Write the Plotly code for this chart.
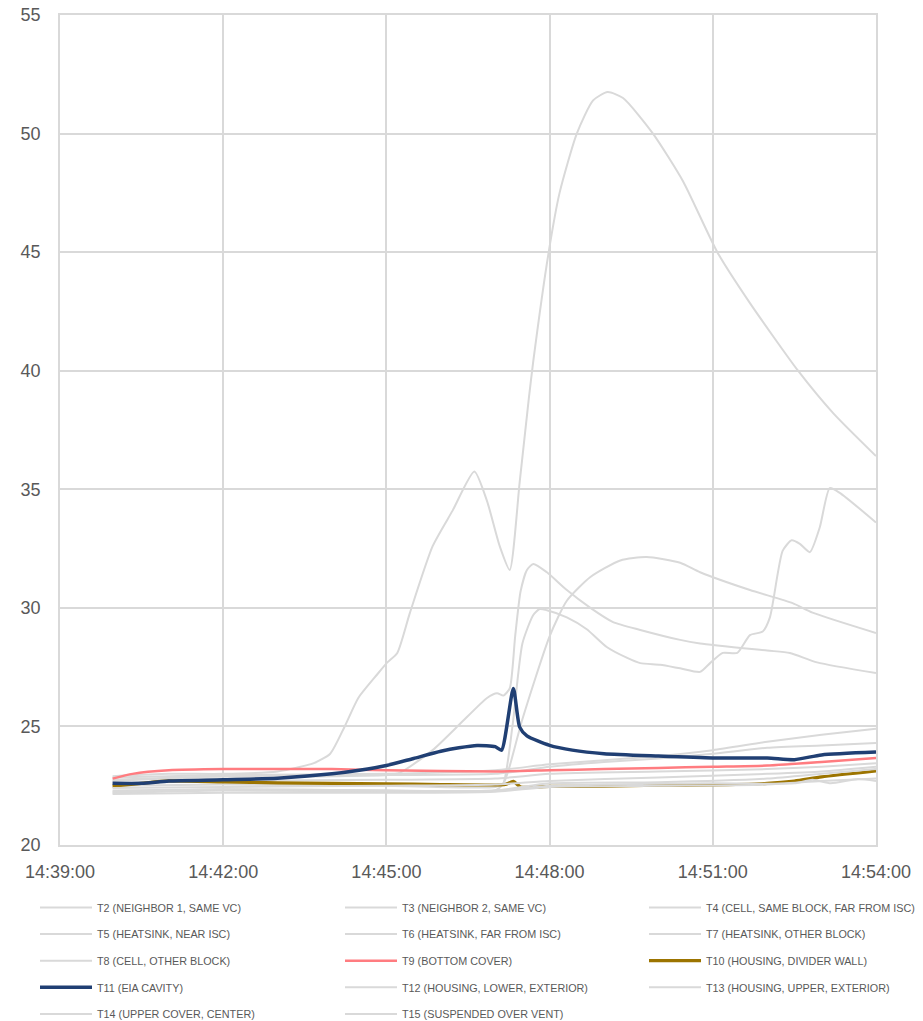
import plotly.graph_objects as go

DAY = "2021-01-01 "

names = {
    "T2": "T2 (NEIGHBOR 1, SAME VC)",
    "T3": "T3 (NEIGHBOR 2, SAME VC)",
    "T4": "T4 (CELL, SAME BLOCK, FAR FROM ISC)",
    "T5": "T5 (HEATSINK, NEAR ISC)",
    "T6": "T6 (HEATSINK, FAR FROM ISC)",
    "T7": "T7 (HEATSINK, OTHER BLOCK)",
    "T8": "T8 (CELL, OTHER BLOCK)",
    "T9": "T9 (BOTTOM COVER)",
    "T10": "T10 (HOUSING, DIVIDER WALL)",
    "T11": "T11 (EIA CAVITY)",
    "T12": "T12 (HOUSING, LOWER, EXTERIOR)",
    "T13": "T13 (HOUSING, UPPER, EXTERIOR)",
    "T14": "T14 (UPPER COVER, CENTER)",
    "T15": "T15 (SUSPENDED OVER VENT)",
}

t2_time = ["14:39:58", "14:41:00", "14:42:00", "14:43:00", "14:43:14", "14:43:40", "14:43:58", "14:44:14",
           "14:44:29", "14:44:50", "14:45:01", "14:45:12", "14:45:26", "14:45:51", "14:46:13", "14:46:37",
           "14:46:51", "14:47:05", "14:47:16", "14:47:27", "14:47:37", "14:47:42", "14:47:59", "14:48:11",
           "14:48:30", "14:48:48", "14:49:04", "14:49:21", "14:49:54", "14:50:27", "14:51:05", "14:51:41",
           "14:52:34", "14:53:13", "14:54:00"]
t2_vals = [22.9, 23.0, 23.0, 23.1, 23.2, 23.45, 23.85, 25.0,
           26.2, 27.2, 27.7, 28.1, 29.8, 32.6, 34.1, 35.75,
           34.5, 32.6, 31.6, 35.3, 38.8, 40.4, 45.0, 47.5,
           50.0, 51.4, 51.75, 51.5, 50.0, 48.0, 45.0, 42.85,
           40.0, 38.2, 36.4]

t3_time = ["14:39:58", "14:41:00", "14:42:00", "14:43:00", "14:44:00", "14:45:00", "14:45:15", "14:45:51",
           "14:46:21", "14:46:51", "14:47:02", "14:47:09", "14:47:16", "14:47:22", "14:47:28", "14:47:35",
           "14:47:42", "14:47:57", "14:48:19", "14:48:45", "14:49:10", "14:49:40", "14:50:24", "14:50:46",
           "14:52:00", "14:52:25", "14:52:55", "14:54:00"]
t3_vals = [22.7, 22.8, 22.8, 22.85, 22.9, 22.95, 23.05, 24.0,
           25.1, 26.2, 26.4, 26.3, 26.6, 28.8, 30.7, 31.6,
           31.85, 31.5, 30.75, 30.0, 29.4, 29.07, 28.65, 28.5,
           28.2, 28.1, 27.7, 27.25]

t4_time = ["14:39:58", "14:42:00", "14:45:00", "14:47:00", "14:47:09", "14:47:15", "14:47:30", "14:48:00",
           "14:48:19", "14:48:45", "14:49:18", "14:49:47", "14:50:24", "14:50:46", "14:51:41", "14:52:28",
           "14:52:50", "14:54:00"]
t4_vals = [22.5, 22.55, 22.5, 22.45, 22.6, 23.2, 25.3, 28.8,
           30.3, 31.3, 32.0, 32.14, 31.9, 31.5, 30.75, 30.2,
           29.8, 28.94]

t5_time = ["14:39:58", "14:42:00", "14:45:00", "14:47:00", "14:47:09", "14:47:19", "14:47:30", "14:47:42",
           "14:47:49", "14:47:57", "14:48:19", "14:48:41", "14:49:03", "14:49:25", "14:49:40", "14:50:02",
           "14:50:24", "14:50:46", "14:50:57", "14:51:11", "14:51:27", "14:51:41", "14:51:55", "14:52:03",
           "14:52:17", "14:52:27", "14:52:36", "14:52:47", "14:52:58", "14:53:09", "14:53:20", "14:54:00"]
t5_vals = [22.3, 22.35, 22.3, 22.3, 22.6, 25.0, 28.5, 29.7,
           29.95, 29.9, 29.6, 29.1, 28.35, 27.9, 27.67, 27.6,
           27.45, 27.3, 27.67, 28.1, 28.1, 28.85, 29.0, 29.6,
           32.4, 32.85, 32.7, 32.35, 33.4, 35.05, 34.85, 33.6]

t6_time = ["14:39:58", "14:42:00", "14:45:00", "14:47:00", "14:48:00", "14:50:00", "14:51:00", "14:52:00",
           "14:53:00", "14:54:00"]
t6_vals = [22.85, 22.95, 23.0, 23.15, 23.4, 23.75, 24.0, 24.35, 24.65, 24.9]

t7_time = ["14:39:58", "14:42:00", "14:45:00", "14:47:00", "14:48:00", "14:49:00", "14:50:00", "14:51:00",
           "14:52:00", "14:53:00", "14:54:00"]
t7_vals = [22.75, 22.9, 22.95, 23.0, 23.3, 23.5, 23.65, 23.85, 24.1, 24.2, 24.3]

t8_time = ["14:39:58", "14:42:00", "14:45:00", "14:47:00", "14:48:00", "14:50:00", "14:52:00", "14:53:00",
           "14:54:00"]
t8_vals = [22.6, 22.7, 22.75, 22.8, 23.0, 23.1, 23.2, 23.3, 23.45]

t9_time = ["14:39:58", "14:40:20", "14:41:00", "14:42:00", "14:44:00", "14:45:00", "14:47:00", "14:48:00",
           "14:49:00", "14:50:00", "14:51:00", "14:52:00", "14:53:00", "14:54:00"]
t9_vals = [22.8, 23.0, 23.15, 23.2, 23.2, 23.15, 23.1, 23.15, 23.2, 23.25, 23.3, 23.35, 23.5, 23.67]

t10_time = ["14:39:58", "14:40:30", "14:41:00", "14:42:00", "14:43:00", "14:44:00", "14:45:00", "14:46:00",
            "14:47:00", "14:47:11", "14:47:20", "14:47:28", "14:48:00", "14:49:00", "14:50:00", "14:51:00",
            "14:52:00", "14:52:30", "14:53:00", "14:54:00"]
t10_vals = [22.48, 22.6, 22.7, 22.66, 22.62, 22.6, 22.58, 22.55,
            22.53, 22.55, 22.68, 22.45, 22.47, 22.48, 22.52, 22.53,
            22.6, 22.7, 22.87, 23.12]

t11_time = ["14:39:58", "14:40:30", "14:41:00", "14:42:00", "14:43:00", "14:44:00", "14:44:30", "14:45:00",
            "14:45:30", "14:46:00", "14:46:20", "14:46:40", "14:47:00", "14:47:07", "14:47:20", "14:47:27",
            "14:47:35", "14:48:00", "14:48:25", "14:49:00", "14:50:00", "14:51:00", "14:52:00", "14:52:30",
            "14:53:00", "14:54:00"]
t11_vals = [22.6, 22.6, 22.7, 22.75, 22.82, 23.0, 23.15, 23.35,
            23.65, 23.95, 24.1, 24.2, 24.15, 24.0, 26.6, 24.97,
            24.6, 24.2, 24.0, 23.85, 23.75, 23.67, 23.67, 23.6,
            23.8, 23.92]

t12_time = ["14:39:58", "14:42:00", "14:45:00", "14:47:00", "14:48:00", "14:50:00", "14:52:00", "14:53:00",
            "14:54:00"]
t12_vals = [22.4, 22.45, 22.5, 22.55, 22.7, 22.85, 23.0, 23.1, 23.3]

t13_time = ["14:39:58", "14:42:00", "14:45:00", "14:47:00", "14:48:00", "14:49:00", "14:51:00", "14:52:30",
            "14:52:50", "14:53:10", "14:53:40", "14:54:00"]
t13_vals = [22.2, 22.3, 22.25, 22.3, 22.5, 22.55, 22.6, 22.6, 22.75, 22.6, 22.78, 22.7]

t14_time = ["14:39:58", "14:42:00", "14:45:00", "14:47:00", "14:48:00", "14:50:00", "14:52:00", "14:53:00",
            "14:54:00"]
t14_vals = [22.15, 22.2, 22.2, 22.25, 22.45, 22.5, 22.55, 22.7, 22.8]

t15_time = ["14:39:58", "14:41:00", "14:42:00", "14:45:00", "14:47:00", "14:48:00", "14:50:00", "14:52:00",
            "14:53:00", "14:54:00"]
t15_vals = [22.25, 22.3, 22.35, 22.3, 22.3, 22.6, 22.65, 22.8, 23.0, 23.2]

series = [
    ("T2", t2_time, t2_vals), ("T3", t3_time, t3_vals), ("T4", t4_time, t4_vals),
    ("T5", t5_time, t5_vals), ("T6", t6_time, t6_vals), ("T7", t7_time, t7_vals),
    ("T8", t8_time, t8_vals), ("T9", t9_time, t9_vals), ("T10", t10_time, t10_vals),
    ("T11", t11_time, t11_vals), ("T12", t12_time, t12_vals), ("T13", t13_time, t13_vals),
    ("T14", t14_time, t14_vals), ("T15", t15_time, t15_vals),
]

styles = {"T9": ("#ff7c80", 2.5), "T10": ("#9c7400", 3.2), "T11": ("#203f73", 3.5)}
legend_of = {"T2": "legend", "T5": "legend", "T8": "legend", "T11": "legend", "T14": "legend",
             "T3": "legend2", "T6": "legend2", "T9": "legend2", "T12": "legend2", "T15": "legend2",
             "T4": "legend3", "T7": "legend3", "T10": "legend3", "T13": "legend3"}

fig = go.Figure()
for key, tt, vv in series:
    color, width = styles.get(key, ("#d9d9d9", 2))
    fig.add_trace(go.Scatter(
        x=[DAY + s for s in tt], y=vv, mode="lines", name=names[key],
        line=dict(color=color, width=width, shape="spline", smoothing=0.6),
        legend=legend_of[key], legendgroup=key,
    ))

tick_vals = [DAY + s for s in ["14:39:00", "14:42:00", "14:45:00", "14:48:00", "14:51:00", "14:54:00"]]
tick_text = ["14:39:00", "14:42:00", "14:45:00", "14:48:00", "14:51:00", "14:54:00"]

W, H = 923, 1021
leg_top = 1 - 893 / H
leg_common = dict(orientation="v", xref="container", yref="container", xanchor="left", yanchor="top",
                  font=dict(family="Liberation Sans", size=10.8, color="#595959"),
                  tracegroupgap=7.6, itemwidth=52, bgcolor="rgba(0,0,0,0)")

fig.update_layout(
    width=W, height=H,
    margin=dict(l=60, r=47, t=15, b=176, autoexpand=False),
    plot_bgcolor="white", paper_bgcolor="white",
    font=dict(family="Liberation Sans", color="#595959"),
    xaxis=dict(type="date", range=[DAY + "14:39:00", DAY + "14:54:00"], tickvals=tick_vals, ticktext=tick_text,
               tickangle=0, automargin=False, ticklabelstandoff=10, ticklabeloverflow="allow",
               showgrid=True, gridcolor="#d9d9d9", gridwidth=1.5, showline=True, linecolor="#d9d9d9",
               linewidth=1.5, mirror=True, tickfont=dict(size=18, color="#595959"), ticks="", zeroline=False),
    yaxis=dict(range=[20, 55], dtick=5, tick0=20, showgrid=True, gridcolor="#d9d9d9", gridwidth=1.5,
               automargin=False, ticklabelstandoff=14, ticklabeloverflow="allow",
               showline=True, linecolor="#d9d9d9", linewidth=1.5, mirror=True,
               tickfont=dict(size=18, color="#595959"), ticks="", zeroline=False),
    legend=dict(x=35 / W, y=leg_top, **leg_common),
    legend2=dict(x=340 / W, y=leg_top, **leg_common),
    legend3=dict(x=644 / W, y=leg_top, **leg_common),
    showlegend=True,
)

fig.write_html("out.html", config={"displayModeBar": False},
               post_script="document.body.style.margin='0';document.body.style.overflow='hidden';")
